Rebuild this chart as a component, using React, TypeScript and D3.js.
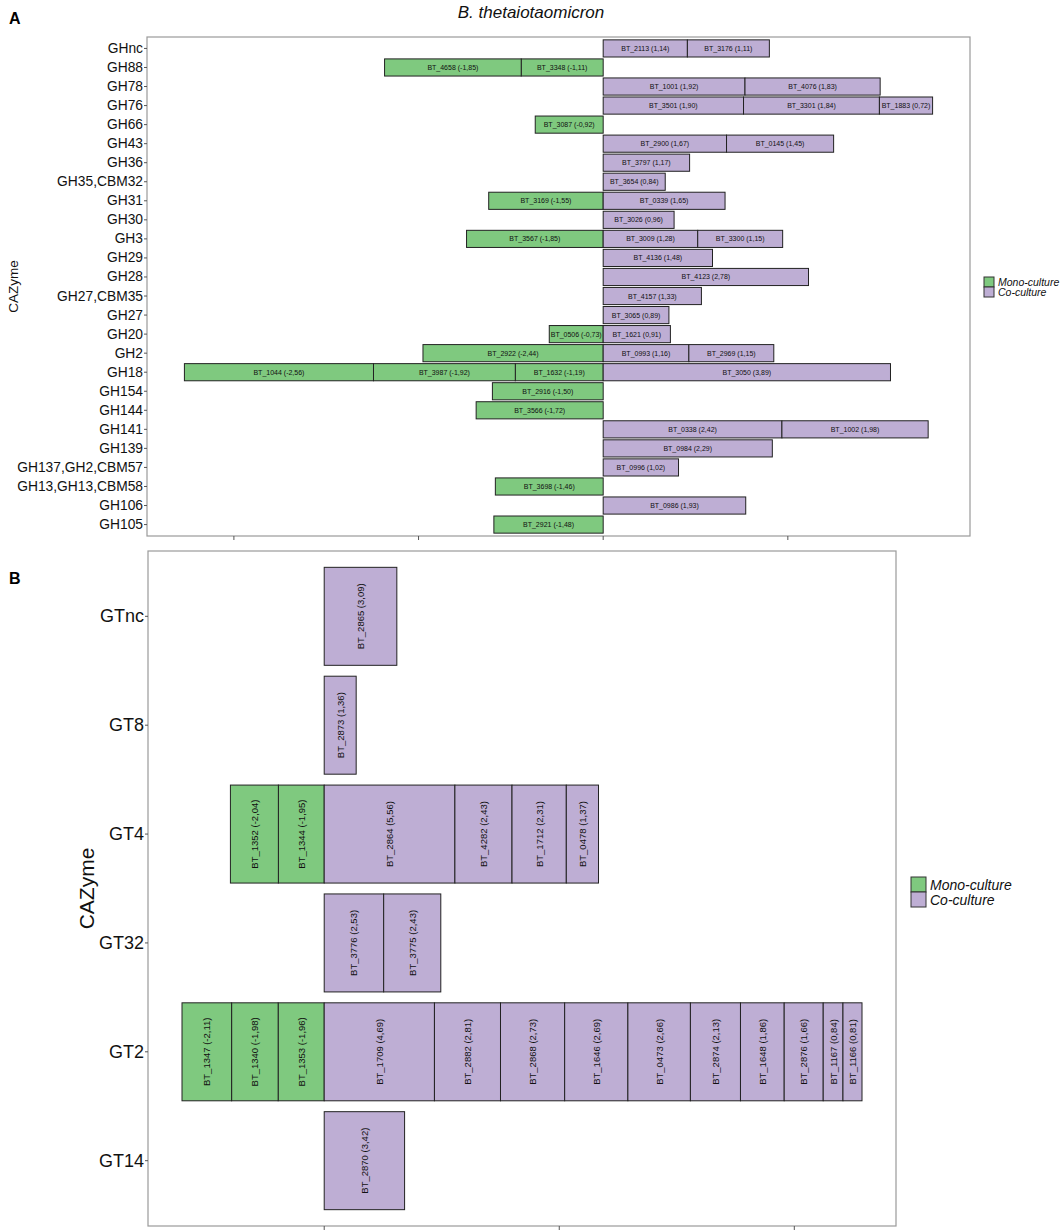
import React, { useEffect, useRef } from "react";
import * as d3 from "d3";

// Panel A: glycoside hydrolases, genes listed from the zero line outward
const ghCategories = [
  "GHnc", "GH88", "GH78", "GH76", "GH66", "GH43", "GH36", "GH35,CBM32", "GH31", "GH30",
  "GH3", "GH29", "GH28", "GH27,CBM35", "GH27", "GH20", "GH2", "GH18", "GH154", "GH144",
  "GH141", "GH139", "GH137,GH2,CBM57", "GH13,GH13,CBM58", "GH106", "GH105",
];
const ghGenes = [
  ["BT_2113", "BT_3176"],
  ["BT_3348", "BT_4658"],
  ["BT_1001", "BT_4076"],
  ["BT_3501", "BT_3301", "BT_1883"],
  ["BT_3087"],
  ["BT_2900", "BT_0145"],
  ["BT_3797"],
  ["BT_3654"],
  ["BT_3169", "BT_0339"],
  ["BT_3026"],
  ["BT_3567", "BT_3009", "BT_3300"],
  ["BT_4136"],
  ["BT_4123"],
  ["BT_4157"],
  ["BT_3065"],
  ["BT_0506", "BT_1621"],
  ["BT_2922", "BT_0993", "BT_2969"],
  ["BT_1632", "BT_3987", "BT_1044", "BT_3050"],
  ["BT_2916"],
  ["BT_3566"],
  ["BT_0338", "BT_1002"],
  ["BT_0984"],
  ["BT_0996"],
  ["BT_3698"],
  ["BT_0986"],
  ["BT_2921"],
];
const ghFold = [
  [1.14, 1.11],
  [-1.11, -1.85],
  [1.92, 1.83],
  [1.9, 1.84, 0.72],
  [-0.92],
  [1.67, 1.45],
  [1.17],
  [0.84],
  [-1.55, 1.65],
  [0.96],
  [-1.85, 1.28, 1.15],
  [1.48],
  [2.78],
  [1.33],
  [0.89],
  [-0.73, 0.91],
  [-2.44, 1.16, 1.15],
  [-1.19, -1.92, -2.56, 3.89],
  [-1.5],
  [-1.72],
  [2.42, 1.98],
  [2.29],
  [1.02],
  [-1.46],
  [1.93],
  [-1.48],
];

// Panel B: glycosyltransferases
const gtCategories = ["GTnc", "GT8", "GT4", "GT32", "GT2", "GT14"];
const gtGenes = [
  ["BT_2865"],
  ["BT_2873"],
  ["BT_1344", "BT_1352", "BT_2864", "BT_4282", "BT_1712", "BT_0478"],
  ["BT_3776", "BT_3775"],
  ["BT_1353", "BT_1340", "BT_1347", "BT_1709", "BT_2882", "BT_2868", "BT_1646",
    "BT_0473", "BT_2874", "BT_1648", "BT_2876", "BT_1167", "BT_1166"],
  ["BT_2870"],
];
const gtFold = [
  [3.09],
  [1.36],
  [-1.95, -2.04, 5.56, 2.43, 2.31, 1.37],
  [2.53, 2.43],
  [-1.96, -1.98, -2.11, 4.69, 2.81, 2.73, 2.69, 2.66, 2.13, 1.86, 1.66, 0.84, 0.81],
  [3.42],
];

const legendLabels = ["Mono-culture", "Co-culture"];
const MONO = "#7FC97F";
const CO = "#BEAED4";
const FONT = "'Liberation Sans', Arial, sans-serif";

type Seg = { cat: string; gene: string; v: number; x0: number; x1: number };

function stack(cats: string[], genes: string[][], fold: number[][]): Seg[] {
  const out: Seg[] = [];
  cats.forEach((c, i) => {
    let pos = 0;
    let neg = 0;
    genes[i].forEach((g, j) => {
      const v = fold[i][j];
      if (v >= 0) {
        out.push({ cat: c, gene: g, v, x0: pos, x1: pos + v });
        pos += v;
      } else {
        out.push({ cat: c, gene: g, v, x0: neg + v, x1: neg });
        neg += v;
      }
    });
  });
  return out;
}

const fmt = (v: number) => v.toFixed(2).replace(".", ",");

interface PanelOpts {
  cats: string[];
  segs: Seg[];
  left: number;
  right: number;
  top: number;
  bottom: number;
  ticks: number[];
  tickFont: number;
  barFont: number;
  vertical: boolean;
  titleX: number;
  titleFont: number;
  legend: { x: number; y: number; key: number; font: number };
}

function drawPanel(g: d3.Selection<SVGGElement, unknown, null, undefined>, o: PanelOpts) {
  const lo = d3.min(o.segs, d => d.x0) as number;
  const hi = d3.max(o.segs, d => d.x1) as number;
  const pad = (hi - lo) * 0.05;
  const x = d3.scaleLinear().domain([lo - pad, hi + pad]).range([o.left, o.right]);
  const y = d3.scalePoint<string>().domain(o.cats).range([o.top, o.bottom]).padding(0.6);
  const bh = y.step() * 0.9;

  // panel border
  g.append("rect")
    .attr("x", o.left)
    .attr("y", o.top)
    .attr("width", o.right - o.left)
    .attr("height", o.bottom - o.top)
    .attr("fill", "none")
    .attr("stroke", "#9a9a9a")
    .attr("stroke-width", 1.2);

  // y ticks and labels
  const yt = g.append("g");
  o.cats.forEach(c => {
    const yy = y(c) as number;
    yt.append("line")
      .attr("x1", o.left - 3)
      .attr("x2", o.left)
      .attr("y1", yy)
      .attr("y2", yy)
      .attr("stroke", "#555");
    yt.append("text")
      .attr("x", o.left - 4)
      .attr("y", yy)
      .attr("text-anchor", "end")
      .attr("dominant-baseline", "central")
      .attr("font-family", FONT)
      .attr("font-size", o.tickFont)
      .attr("fill", "#111")
      .text(c);
  });

  // x ticks without labels
  o.ticks.forEach(t => {
    g.append("line")
      .attr("x1", x(t))
      .attr("x2", x(t))
      .attr("y1", o.bottom)
      .attr("y2", o.bottom + 4)
      .attr("stroke", "#555");
  });

  // bars
  const bars = g.append("g");
  o.segs.forEach(s => {
    const yy = (y(s.cat) as number) - bh / 2;
    bars.append("rect")
      .attr("x", x(s.x0))
      .attr("y", yy)
      .attr("width", x(s.x1) - x(s.x0))
      .attr("height", bh)
      .attr("fill", s.v < 0 ? MONO : CO)
      .attr("stroke", "#222")
      .attr("stroke-width", 1);
    const cx = (x(s.x0) + x(s.x1)) / 2;
    const cy = y(s.cat) as number;
    const t = bars.append("text")
      .attr("font-family", FONT)
      .attr("font-size", o.barFont)
      .attr("fill", "#111")
      .attr("text-anchor", "middle")
      .attr("dominant-baseline", "central")
      .text(`${s.gene} (${fmt(s.v)})`);
    if (o.vertical) {
      t.attr("transform", `translate(${cx},${cy}) rotate(-90)`);
    } else {
      t.attr("x", cx).attr("y", cy);
    }
  });

  // axis title
  const midY = (o.top + o.bottom) / 2;
  g.append("text")
    .attr("transform", `translate(${o.titleX},${midY}) rotate(-90)`)
    .attr("text-anchor", "middle")
    .attr("font-family", FONT)
    .attr("font-size", o.titleFont)
    .attr("fill", "#111")
    .text("CAZyme");

  // legend
  const lg = g.append("g");
  legendLabels.forEach((l, i) => {
    const ly = o.legend.y + i * o.legend.key;
    lg.append("rect")
      .attr("x", o.legend.x)
      .attr("y", ly)
      .attr("width", o.legend.key)
      .attr("height", o.legend.key)
      .attr("fill", i === 0 ? MONO : CO)
      .attr("stroke", "#333")
      .attr("stroke-width", 1);
    lg.append("text")
      .attr("x", o.legend.x + o.legend.key + 4)
      .attr("y", ly + o.legend.key / 2)
      .attr("dominant-baseline", "central")
      .attr("font-family", FONT)
      .attr("font-style", "italic")
      .attr("font-size", o.legend.font)
      .attr("fill", "#111")
      .text(l);
  });
}

const App: React.FC = () => {
  const svgRef = useRef<SVGSVGElement>(null);

  useEffect(() => {
    document.body.style.margin = "0";
    if (svgRef.current === null) return;
    const svg = d3.select(svgRef.current);
    svg.selectAll("*").remove();

    svg.append("text")
      .attr("x", 531)
      .attr("y", 18)
      .attr("text-anchor", "middle")
      .attr("font-family", FONT)
      .attr("font-style", "italic")
      .attr("font-size", 17)
      .attr("fill", "#111")
      .text("B. thetaiotaomicron");

    svg.append("text")
      .attr("x", 9)
      .attr("y", 24)
      .attr("font-family", FONT)
      .attr("font-weight", "bold")
      .attr("font-size", 16)
      .text("A");

    svg.append("text")
      .attr("x", 9)
      .attr("y", 584)
      .attr("font-family", FONT)
      .attr("font-weight", "bold")
      .attr("font-size", 16)
      .text("B");

    drawPanel(svg.append("g"), {
      cats: ghCategories,
      segs: stack(ghCategories, ghGenes, ghFold),
      left: 147,
      right: 970,
      top: 37,
      bottom: 536,
      ticks: [-5, -2.5, 0, 2.5],
      tickFont: 13.8,
      barFont: 7,
      vertical: false,
      titleX: 18,
      titleFont: 13.5,
      legend: { x: 984, y: 277, key: 10, font: 10.5 },
    });

    drawPanel(svg.append("g"), {
      cats: gtCategories,
      segs: stack(gtCategories, gtGenes, gtFold),
      left: 148,
      right: 896,
      top: 551,
      bottom: 1226,
      ticks: [0, 10, 20],
      tickFont: 18,
      barFont: 9.5,
      vertical: true,
      titleX: 94,
      titleFont: 21,
      legend: { x: 911, y: 877, key: 15, font: 14 },
    });
  }, []);

  return (
    <svg
      ref={svgRef}
      width={1063}
      height={1232}
      viewBox="0 0 1063 1232"
      style={{ display: "block", background: "#fff" }}
    />
  );
};

export default App;
